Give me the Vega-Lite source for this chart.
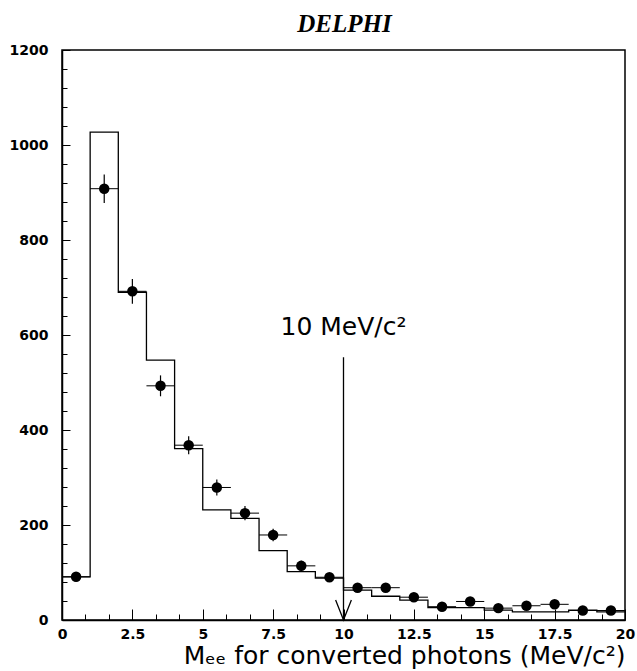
{
  "$schema": "https://vega.github.io/schema/vega-lite/v6.json",
  "width": 563,
  "height": 570,
  "autosize": "none",
  "padding": {"left": 62, "top": 50, "right": 12, "bottom": 51},
  "background": "white",
  "config": {
    "view": {"stroke": "black", "strokeWidth": 1.5},
    "axis": {
      "domainColor": "black",
      "domainWidth": 1.5,
      "tickColor": "black",
      "tickWidth": 1,
      "labelColor": "black",
      "labelFont": "DejaVu Sans",
      "labelFontWeight": "bold",
      "labelFontSize": 14,
      "grid": false
    }
  },
  "title": {
    "text": "DELPHI",
    "font": "Liberation Serif",
    "fontStyle": "italic",
    "fontWeight": "bold",
    "fontSize": 25,
    "color": "black",
    "anchor": "middle",
    "offset": 6,
    "dx": 1
  },
  "datasets": {
    "hist": [
      {"m": 0, "n": 91},
      {"m": 1, "n": 1027},
      {"m": 2, "n": 690},
      {"m": 3, "n": 547},
      {"m": 4, "n": 361},
      {"m": 5, "n": 232},
      {"m": 6, "n": 214},
      {"m": 7, "n": 146},
      {"m": 8, "n": 102},
      {"m": 9, "n": 88},
      {"m": 10, "n": 63},
      {"m": 11, "n": 50},
      {"m": 12, "n": 42},
      {"m": 13, "n": 26},
      {"m": 14, "n": 26},
      {"m": 15, "n": 21},
      {"m": 16, "n": 17},
      {"m": 17, "n": 17},
      {"m": 18, "n": 21},
      {"m": 19, "n": 17},
      {"m": 20, "n": 17}
    ],
    "points": [
      {"m": 0.5, "lo": 0, "hi": 1, "n": 91, "nlo": 81, "nhi": 101},
      {"m": 1.5, "lo": 1, "hi": 2, "n": 908, "nlo": 878, "nhi": 938},
      {"m": 2.5, "lo": 2, "hi": 3, "n": 692, "nlo": 666, "nhi": 718},
      {"m": 3.5, "lo": 3, "hi": 4, "n": 493, "nlo": 471, "nhi": 515},
      {"m": 4.5, "lo": 4, "hi": 5, "n": 368, "nlo": 349, "nhi": 387},
      {"m": 5.5, "lo": 5, "hi": 6, "n": 279, "nlo": 262, "nhi": 296},
      {"m": 6.5, "lo": 6, "hi": 7, "n": 225, "nlo": 210, "nhi": 240},
      {"m": 7.5, "lo": 7, "hi": 8, "n": 179, "nlo": 166, "nhi": 192},
      {"m": 8.5, "lo": 8, "hi": 9, "n": 114, "nlo": 103, "nhi": 125},
      {"m": 9.5, "lo": 9, "hi": 10, "n": 90, "nlo": 81, "nhi": 99},
      {"m": 10.5, "lo": 10, "hi": 11, "n": 68, "nlo": 60, "nhi": 76},
      {"m": 11.5, "lo": 11, "hi": 12, "n": 68, "nlo": 60, "nhi": 76},
      {"m": 12.5, "lo": 12, "hi": 13, "n": 48, "nlo": 41, "nhi": 55},
      {"m": 13.5, "lo": 13, "hi": 14, "n": 28, "nlo": 23, "nhi": 33},
      {"m": 14.5, "lo": 14, "hi": 15, "n": 39, "nlo": 33, "nhi": 45},
      {"m": 15.5, "lo": 15, "hi": 16, "n": 25, "nlo": 20, "nhi": 30},
      {"m": 16.5, "lo": 16, "hi": 17, "n": 30, "nlo": 25, "nhi": 35},
      {"m": 17.5, "lo": 17, "hi": 18, "n": 33, "nlo": 27, "nhi": 39},
      {"m": 18.5, "lo": 18, "hi": 19, "n": 20, "nlo": 16, "nhi": 24},
      {"m": 19.5, "lo": 19, "hi": 20, "n": 20, "nlo": 16, "nhi": 24}
    ],
    "arrowhead": [
      {"m": 9.72, "n": 42, "k": 0},
      {"m": 10, "n": 0, "k": 1},
      {"m": 10.28, "n": 42, "k": 2}
    ],
    "cut": [
      {"m": 10, "n": 0, "ntop": 553, "label": "10 MeV/c²", "labely": 600}
    ]
  },
  "layer": [
    {
      "data": {"name": "hist"},
      "mark": {"type": "line", "interpolate": "step-after", "color": "black", "strokeWidth": 1.3},
      "encoding": {
        "x": {
          "field": "m",
          "type": "quantitative",
          "scale": {"domain": [0, 20], "nice": false, "zero": false},
          "axis": {
            "title": "Mₑₑ for converted photons (MeV/c²)",
            "titleFont": "DejaVu Sans",
            "titleFontWeight": "normal",
            "titleFontSize": 25,
            "titleColor": "black",
            "titleAnchor": "end",
            "titlePadding": -3,
            "tickCount": 200,
            "values": [0, 0.8333, 1.6667, 2.5, 3.3333, 4.1667, 5, 5.8333, 6.6667, 7.5, 8.3333, 9.1667, 10, 10.8333, 11.6667, 12.5, 13.3333, 14.1667, 15, 15.8333, 16.6667, 17.5, 18.3333, 19.1667, 20],
            "labelExpr": "abs(datum.value / 2.5 - round(datum.value / 2.5)) < 0.001 ? toString(datum.value) : ''",
            "tickSize": {"condition": {"test": "abs(datum.value / 2.5 - round(datum.value / 2.5)) < 0.001", "value": -11}, "value": -6},
            "labelPadding": 18,
            "labelFlush": false,
            "labelOverlap": false
          }
        },
        "y": {
          "field": "n",
          "type": "quantitative",
          "scale": {"domain": [0, 1200], "nice": false},
          "axis": {
            "title": null,
            "tickCount": 200,
            "values": [0, 40, 80, 120, 160, 200, 240, 280, 320, 360, 400, 440, 480, 520, 560, 600, 640, 680, 720, 760, 800, 840, 880, 920, 960, 1000, 1040, 1080, 1120, 1160, 1200],
            "labelExpr": "datum.value % 200 === 0 ? toString(datum.value) : ''",
            "tickSize": {"condition": {"test": "datum.value % 200 === 0", "value": -8}, "value": -5},
            "labelPadding": 22,
            "labelOverlap": false
          }
        }
      }
    },
    {
      "data": {"name": "points"},
      "mark": {"type": "rule", "color": "black", "strokeWidth": 1},
      "encoding": {
        "x": {"field": "lo", "type": "quantitative"},
        "x2": {"field": "hi"},
        "y": {"field": "n", "type": "quantitative"}
      }
    },
    {
      "data": {"name": "points"},
      "mark": {"type": "rule", "color": "black", "strokeWidth": 1.2},
      "encoding": {
        "x": {"field": "m", "type": "quantitative"},
        "y": {"field": "nlo", "type": "quantitative"},
        "y2": {"field": "nhi"}
      }
    },
    {
      "data": {"name": "points"},
      "mark": {"type": "point", "shape": "circle", "filled": true, "color": "black", "opacity": 1, "size": 110},
      "encoding": {
        "x": {"field": "m", "type": "quantitative"},
        "y": {"field": "n", "type": "quantitative"}
      }
    },
    {
      "data": {"name": "cut"},
      "mark": {"type": "rule", "color": "black", "strokeWidth": 1.3},
      "encoding": {
        "x": {"field": "m", "type": "quantitative"},
        "y": {"field": "n", "type": "quantitative"},
        "y2": {"field": "ntop"}
      }
    },
    {
      "data": {"name": "arrowhead"},
      "mark": {"type": "line", "color": "black", "strokeWidth": 1.3},
      "encoding": {
        "x": {"field": "m", "type": "quantitative"},
        "y": {"field": "n", "type": "quantitative"},
        "order": {"field": "k"}
      }
    },
    {
      "data": {"name": "cut"},
      "mark": {"type": "text", "font": "DejaVu Sans", "fontSize": 25, "color": "black", "align": "center", "baseline": "alphabetic"},
      "encoding": {
        "x": {"field": "m", "type": "quantitative"},
        "y": {"field": "labely", "type": "quantitative"},
        "text": {"field": "label"}
      }
    }
  ]
}
